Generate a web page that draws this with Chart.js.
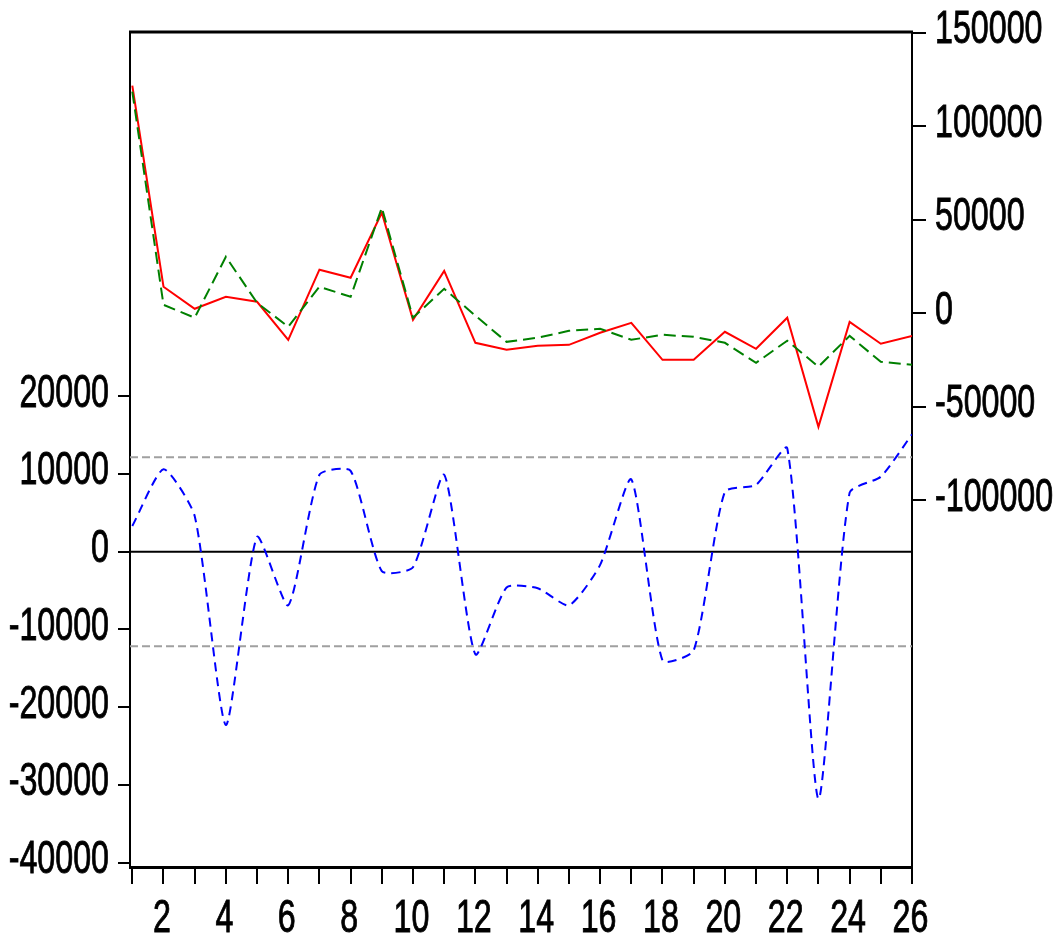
<!DOCTYPE html>
<html>
<head>
<meta charset="utf-8">
<script src="https://cdn.jsdelivr.net/npm/chart.js@4.4.1/dist/chart.umd.min.js"></script>
<style>
  body { margin: 0; background: #fff; }
  canvas { display: block; }
</style>
</head>
<body>
<canvas id="chart" width="1060" height="941"></canvas>
<script>
// observations 1..26
const obs = [1, 2, 3, 4, 5, 6, 7, 8, 9, 10, 11, 12, 13, 14, 15, 16, 17, 18, 19, 20, 21, 22, 23, 24, 25, 26];

// right axis: actual and fitted
const actual = [121700, 14100, 2300, 8700, 6050, -14300, 23200, 18900, 53700, -3600, 22600, -15900, -19600,
                -17500, -17000, -10500, -5200, -25000, -25000, -10000, -19100, -2500, -60900, -4700, -16400, -12200];
const fitted = [118500, 4400, -2500, 30100, 5500, -7300, 14100, 8700, 56400, -2500, 13000, -1400, -15400,
                -13200, -9500, -8400, -14300, -11600, -12700, -15900, -26600, -14800, -28700, -12200, -26100, -27700];

// left axis: residual
const residual = [3300, 10600, 4600, -22300, 1900, -6900, 9900, 10400, -2500, -2000, 9900, -13200, -4600,
                  -4700, -6900, -1700, 9300, -14000, -12700, 7700, 8600, 13300, -31800, 7600, 9650, 15100];

const residTicks = [-40000, -30000, -20000, -10000, 0, 10000, 20000];
const levelTicks = [-100000, -50000, 0, 50000, 100000, 150000];
const obsLabels = [2, 4, 6, 8, 10, 12, 14, 16, 18, 20, 22, 24, 26];
const seBand = 12150;

const toPoints = arr => obs.map((o, i) => ({ x: o, y: arr[i] }));

// zero line and +/- 1 S.E. dashed lines, plus the top frame
const guides = {
  id: 'guides',
  beforeDatasetsDraw(chart) {
    const { ctx, chartArea: a } = chart;
    const s = chart.scales.yRes;
    ctx.save();
    ctx.strokeStyle = '#a0a0a0';
    ctx.lineWidth = 2;
    ctx.setLineDash([8, 4]);
    [seBand, -seBand].forEach(v => {
      const y = s.getPixelForValue(v);
      ctx.beginPath(); ctx.moveTo(a.left, y); ctx.lineTo(a.right, y); ctx.stroke();
    });
    ctx.setLineDash([]);
    ctx.strokeStyle = '#000';
    const y0 = s.getPixelForValue(0);
    ctx.beginPath(); ctx.moveTo(a.left, y0); ctx.lineTo(a.right, y0); ctx.stroke();
    ctx.restore();
  },
  afterDraw(chart) {
    const { ctx, chartArea: a } = chart;
    ctx.save();
    ctx.strokeStyle = '#000';
    ctx.lineWidth = 3;
    ctx.beginPath(); ctx.moveTo(a.left - 1, a.top); ctx.lineTo(a.right + 1, a.top); ctx.stroke();
    ctx.restore();
  }
};

// narrow tick labels (the original text is horizontally squeezed)
const axisLabels = {
  id: 'axisLabels',
  afterDraw(chart) {
    const { ctx, chartArea: a } = chart;
    const sx = chart.scales.x, sl = chart.scales.yRes, sr = chart.scales.yLev;
    ctx.save();
    ctx.fillStyle = '#000';
    ctx.strokeStyle = '#000';
    ctx.lineWidth = 0.9;
    ctx.font = '46px "Liberation Sans", Arial, sans-serif';
    ctx.textBaseline = 'alphabetic';
    const put = (txt, x, y, align) => {
      ctx.save();
      ctx.translate(x, y);
      ctx.scale(0.7, 1);
      ctx.textAlign = align;
      ctx.fillText(txt, 0, 0);
      ctx.strokeText(txt, 0, 0);
      ctx.restore();
    };
    residTicks.forEach(v => put(String(v), a.left - 21, sl.getPixelForValue(v) + 10.3, 'right'));
    levelTicks.forEach(v => put(String(v), a.right + 23, sr.getPixelForValue(v) + 10.6, 'left'));
    obsLabels.forEach(v => put(String(v), sx.getPixelForValue(v) - 1.5, a.bottom + 65, 'center'));
    ctx.restore();
  }
};

const tickGrid = len => ({ drawOnChartArea: false, drawTicks: true, tickLength: len, color: '#000', lineWidth: 2 });

new Chart(document.getElementById('chart').getContext('2d'), {
  type: 'line',
  data: {
    datasets: [
      { label: 'Fitted', data: toPoints(fitted), yAxisID: 'yLev', borderColor: '#008000', borderWidth: 2,
        borderDash: [12, 6], pointRadius: 0, tension: 0, fill: false },
      { label: 'Actual', data: toPoints(actual), yAxisID: 'yLev', borderColor: '#ff0000', borderWidth: 2,
        pointRadius: 0, tension: 0, fill: false },
      { label: 'Residual', data: toPoints(residual), yAxisID: 'yRes', borderColor: '#0000ff', borderWidth: 2,
        borderDash: [9, 6], pointRadius: 0, tension: 0.2, fill: false }
    ]
  },
  options: {
    responsive: false,
    animation: false,
    layout: { padding: { top: 32 } },
    plugins: { legend: { display: false }, tooltip: { enabled: false } },
    scales: {
      x: {
        type: 'linear', min: 0.926, max: 26,
        afterBuildTicks: s => { s.ticks = obs.map(v => ({ value: v })); },
        afterFit: s => { s.height = 74; },
        ticks: { display: false },
        grid: tickGrid(17),
        border: { color: '#000', width: 3 }
      },
      yRes: {
        type: 'linear', position: 'left', min: -40553, max: 66843,
        afterBuildTicks: s => { s.ticks = residTicks.map(v => ({ value: v })); },
        afterFit: s => { s.width = 130; },
        ticks: { display: false },
        grid: tickGrid(12),
        border: { color: '#000', width: 2 }
      },
      yLev: {
        type: 'linear', position: 'right', min: -296400, max: 150400,
        afterBuildTicks: s => { s.ticks = levelTicks.map(v => ({ value: v })); },
        afterFit: s => { s.width = 148; },
        ticks: { display: false },
        grid: tickGrid(14),
        border: { color: '#000', width: 2 }
      }
    }
  },
  plugins: [guides, axisLabels]
});
</script>
</body>
</html>
